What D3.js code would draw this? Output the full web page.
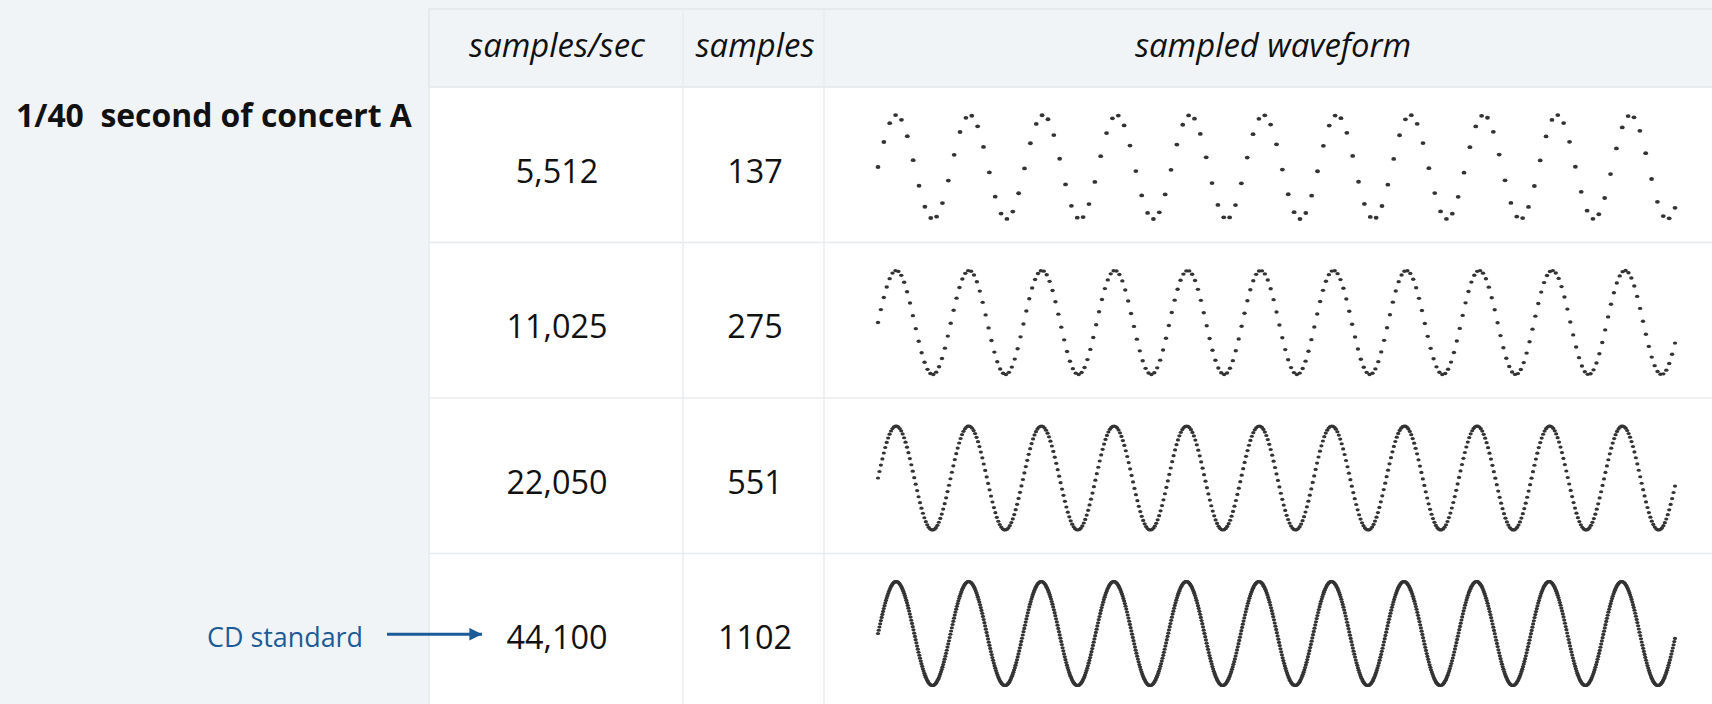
<!DOCTYPE html>
<html>
<head>
<meta charset="utf-8">
<script src="https://cdn.jsdelivr.net/npm/d3@7"></script>
<style>
  html, body { margin: 0; padding: 0; background: #f1f4f7; }
  svg { display: block; }
</style>
</head>
<body>
<svg id="chart" width="1712" height="704"></svg>
<script>
// ---------- data ----------
const headers = ["samples/sec", "samples", "sampled waveform"];
const rateLabels = ["5,512", "11,025", "22,050", "44,100"];
const sampleRates = [5512, 11025, 22050, 44100];
const sampleCounts = [137, 275, 551, 1102];
const toneHz = [440];            // concert A
const titleText = ["1/40\u00a0\u00a0second of concert A"];
const noteText = ["CD standard"];
const noteRow = [3];

// ---------- layout ----------
const W = 1712, H = 704;
const svg = d3.select("#chart");
const FONT = "'Open Sans', 'Noto Sans', sans-serif";

const colEdges = [429, 683, 824, 1712];
const headerTop = 9, headerBottom = 87;
const rowY = d3.scaleBand().domain(d3.range(sampleRates.length)).range([87, 709]).paddingInner(0);

svg.append("rect").attr("width", W).attr("height", H).attr("fill", "#f1f4f7");

// header
svg.append("rect").attr("x", colEdges[0]).attr("y", headerTop)
  .attr("width", W - colEdges[0] + 2).attr("height", headerBottom - headerTop)
  .attr("fill", "#f1f4f7").attr("stroke", "#e2e6ea").attr("stroke-width", 1.5);
// body
svg.append("rect").attr("x", colEdges[0]).attr("y", headerBottom)
  .attr("width", W - colEdges[0] + 2).attr("height", H - headerBottom + 5)
  .attr("fill", "#ffffff").attr("stroke", "#e6e9ec").attr("stroke-width", 1.5);

// grid lines
const grid = svg.append("g").attr("stroke", "#e8ebee").attr("stroke-width", 1.5);
[colEdges[1], colEdges[2]].forEach(x => {
  grid.append("line").attr("x1", x).attr("x2", x).attr("y1", headerTop).attr("y2", H + 2);
});
sampleRates.forEach((_, i) => {
  grid.append("line").attr("x1", colEdges[0]).attr("x2", W + 2)
    .attr("y1", rowY(i)).attr("y2", rowY(i));
});

// helper: fit font size to width
function fitSize(text, weight, style, targetW) {
  const t = svg.append("text").attr("font-family", FONT).attr("font-size", 100)
    .attr("font-weight", weight).attr("font-style", style).text(text);
  const w = t.node().getComputedTextLength();
  t.remove();
  return 100 * targetW / w;
}

// headers
const hSize = fitSize("samples/sec", 400, "italic", 176);
const colCenters = [557, 755, 1273];
headers.forEach((h, i) => {
  svg.append("text").attr("x", colCenters[i]).attr("y", 57)
    .attr("text-anchor", "middle").attr("font-family", FONT)
    .attr("font-style", "italic").attr("font-size", hSize).attr("fill", "#111")
    .text(h);
});

// title
const tSize = fitSize(titleText[0], 700, "normal", 396);
svg.append("text").attr("x", 16).attr("y", 127).attr("font-family", FONT)
  .attr("font-weight", 700).attr("font-size", tSize).attr("fill", "#111")
  .text(titleText[0]);

// numbers
const nSize = fitSize("44,100", 400, "normal", 101);
sampleRates.forEach((r, i) => {
  const cy = rowY(i) + rowY.bandwidth() / 2 + 5;
  svg.append("text").attr("x", colCenters[0]).attr("y", cy)
    .attr("text-anchor", "middle").attr("dominant-baseline", "central")
    .attr("font-family", FONT).attr("font-size", nSize).attr("fill", "#111")
    .text(rateLabels[i]);
  svg.append("text").attr("x", colCenters[1]).attr("y", cy)
    .attr("text-anchor", "middle").attr("dominant-baseline", "central")
    .attr("font-family", FONT).attr("font-size", nSize).attr("fill", "#111")
    .text(d3.format("d")(sampleCounts[i]));
});

// waveforms
const waveCenterOffset = 80, amp = 52;
const dotRx = [2.4, 2.2, 2.1, 2.1];
const dotRy = [1.9, 1.7, 1.6, 1.6];
sampleRates.forEach((rate, i) => {
  const n = sampleCounts[i];
  const x = d3.scaleLinear().domain([0, n - 1]).range([878, 1675]);
  const cy = rowY(i) + waveCenterOffset;
  const y = d3.scaleLinear().domain([-1, 1]).range([cy + amp, cy - amp]);
  const pts = d3.range(n).map(k => ({ k, v: Math.sin(2 * Math.PI * toneHz[0] * k / rate) }));
  svg.append("g").attr("fill", "#333")
    .selectAll("ellipse").data(pts).join("ellipse")
    .attr("cx", d => x(d.k)).attr("cy", d => y(d.v))
    .attr("rx", dotRx[i]).attr("ry", dotRy[i]);
});

// CD standard note + arrow
const blue = "#1a5b98";
const noteY = rowY(noteRow[0]) + rowY.bandwidth() / 2 + 5;
const cdSize = fitSize(noteText[0], 400, "normal", 156);
svg.append("text").attr("x", 363).attr("y", noteY).attr("text-anchor", "end")
  .attr("dominant-baseline", "central").attr("font-family", FONT)
  .attr("font-size", cdSize).attr("fill", blue).text(noteText[0]);
svg.append("defs").append("marker").attr("id", "ah")
  .attr("viewBox", "0 0 10 10").attr("refX", 10).attr("refY", 5)
  .attr("markerWidth", 4.2).attr("markerHeight", 4.2).attr("orient", "auto")
  .attr("markerUnits", "strokeWidth")
  .append("path").attr("d", "M0,0 L10,5 L0,10 Z").attr("fill", blue);
svg.append("line").attr("x1", 387).attr("x2", 482).attr("y1", noteY - 2).attr("y2", noteY - 2)
  .attr("stroke", blue).attr("stroke-width", 3).attr("marker-end", "url(#ah)");
</script>
</body>
</html>
